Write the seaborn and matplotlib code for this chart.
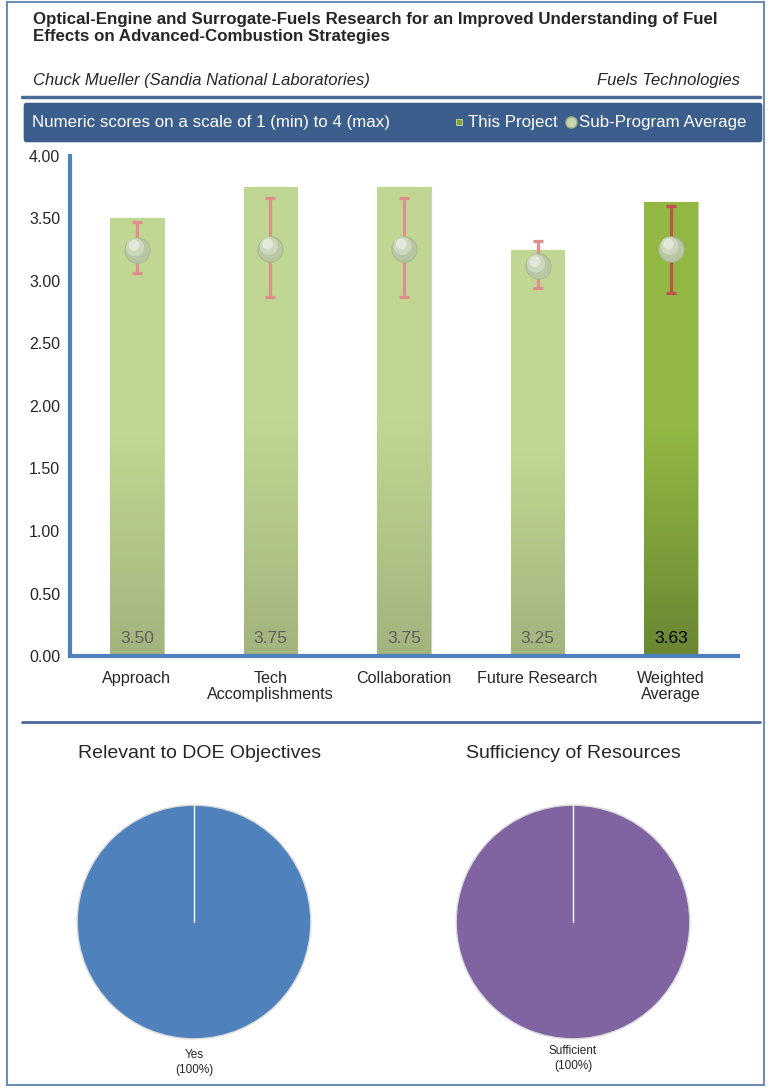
import numpy as np
import pandas as pd
import matplotlib.pyplot as plt
import seaborn as sns
from matplotlib.patches import FancyBboxPatch, Rectangle
from matplotlib.lines import Line2D

categories = ['Approach', 'Tech\nAccomplishments', 'Collaboration', 'Future Research', 'Weighted\nAverage']
scores = [3.50, 3.75, 3.75, 3.25, 3.63]
score_labels = ['3.50', '3.75', '3.75', '3.25', '3.63']
sub_avg = [3.25, 3.26, 3.26, 3.12, 3.26]
err_low = [3.06, 2.87, 2.87, 2.94, 2.90]
err_high = [3.47, 3.66, 3.66, 3.32, 3.60]
y_ticks = [0.0, 0.5, 1.0, 1.5, 2.0, 2.5, 3.0, 3.5, 4.0]

relevant_labels = ['Yes\n(100%)']
relevant_values = [100]
resources_labels = ['Sufficient\n(100%)']
resources_values = [100]

sns.set_theme(style="white")
plt.rcParams['font.family'] = ['Liberation Sans', 'DejaVu Sans']

W, H = 772, 1088
fig = plt.figure(figsize=(W / 100, H / 100), dpi=100)


def fx(px):
    return px / W


def fy(py):
    return 1 - py / H


# outer frame and header
fig.patches.append(Rectangle((fx(7), fy(1085)), fx(757), 1083 / H, transform=fig.transFigure,
                             fill=False, edgecolor='#6F8CB5', linewidth=1.5))
fig.text(fx(33), fy(28), 'Optical-Engine and Surrogate-Fuels Research for an Improved Understanding of Fuel\n'
         'Effects on Advanced-Combustion Strategies', fontsize=12.2, fontweight='bold',
         va='center', ha='left', linespacing=1.2)
fig.text(fx(33), fy(80), 'Chuck Mueller (Sandia National Laboratories)', fontsize=12,
         style='italic', va='center')
fig.text(fx(740), fy(80), 'Fuels Technologies', fontsize=12, style='italic', va='center', ha='right')
fig.lines.append(Line2D([fx(22), fx(760)], [fy(97), fy(97)], transform=fig.transFigure,
                        color='#4A6A9A', linewidth=2.5))

# banner with legend
fig.patches.append(FancyBboxPatch((fx(26), fy(139)), fx(734), 33 / H, transform=fig.transFigure,
                                  boxstyle='round,pad=0.003', facecolor='#3B5E8C', edgecolor='none'))
fig.text(fx(32), fy(122), 'Numeric scores on a scale of 1 (min) to 4 (max)', color='white',
         fontsize=12.2, va='center')
fig.patches.append(Rectangle((fx(456), fy(125)), fx(6), 6 / H, transform=fig.transFigure,
                             facecolor='#7FA33A', edgecolor='#C9DB9A', linewidth=0.6))
fig.text(fx(468), fy(122), 'This Project', color='white', fontsize=12.2, va='center')
fig.lines.append(Line2D([fx(571)], [fy(122)], transform=fig.transFigure, marker='o',
                        markersize=8, markerfacecolor='#C9D6B4', markeredgecolor='#9FAF88'))
fig.text(fx(579), fy(122), 'Sub-Program Average', color='white', fontsize=12.2, va='center')

# bar chart
ax = fig.add_axes([fx(70), fy(656), fx(668), 500 / H])
df = pd.DataFrame({'category': categories, 'score': scores})
palette = ['#B8D08A'] * 4 + ['#86AA3C']
sns.barplot(data=df, x='category', y='score', hue='category', palette=palette,
            width=0.4, legend=False, ax=ax, saturation=1)

grads = [('#BFD792', '#A3B47E')] * 4 + [('#92B843', '#6A8733')]
for patch, (c_top, c_bot) in zip(ax.patches, grads):
    x0, y0 = patch.get_x(), patch.get_y()
    w, h = patch.get_width(), patch.get_height()
    cmap = sns.blend_palette([c_bot, c_top, c_top], as_cmap=True)
    grad = np.linspace(0, 1, 100).reshape(-1, 1)
    im = ax.imshow(grad, cmap=cmap, origin='lower', aspect='auto',
                   extent=[x0, x0 + w, y0, y0 + h], zorder=patch.get_zorder() + 0.1)
    im.set_clip_path(patch)
    patch.set_edgecolor('#C8D3B4')
    patch.set_linewidth(0.8)

xs = np.arange(len(categories))
avg = np.array(sub_avg)
yerr = [avg - np.array(err_low), np.array(err_high) - avg]
for i in xs:
    col = '#C0504D' if i == 4 else '#E28E8C'
    ax.errorbar(xs[i], avg[i], yerr=[[yerr[0][i]], [yerr[1][i]]], fmt='none', ecolor=col,
                elinewidth=2.3, capsize=3.5, capthick=2.3, zorder=5)
ax.scatter(xs, avg, s=330, color='#B9C6A3', edgecolor='#A9B992', linewidth=0.8, zorder=6)
ax.scatter(xs - 0.012, avg + 0.02, s=170, color='#D0DAC2', edgecolor='none', zorder=7, alpha=0.9)
ax.scatter(xs - 0.02, avg + 0.035, s=60, color='#E6ECDD', edgecolor='none', zorder=8, alpha=0.9)

for i, lab in enumerate(score_labels):
    ax.text(xs[i], 0.14, lab, ha='center', va='center', fontsize=12.5,
            color='black' if i == 4 else '#5E5E5E', zorder=8)

ax.set_xlim(-0.5, 4.5)
ax.set_ylim(0, 4)
ax.set_yticks(y_ticks)
ax.set_yticklabels([f'{v:.2f}' for v in y_ticks], fontsize=11.5)
ax.set_xticks(xs)
ax.set_xticklabels(categories, fontsize=11.6, linespacing=1.05)
ax.set_xticks(np.arange(-0.5, 5, 1), minor=True)
ax.tick_params(axis='x', which='major', length=0, pad=11)
ax.tick_params(axis='x', which='minor', length=5, width=2, color='#4F81BD', direction='out')
ax.tick_params(axis='y', length=4, width=2, color='#4F81BD', direction='out', pad=3)
ax.set_xlabel('')
ax.set_ylabel('')
for side in ['top', 'right']:
    ax.spines[side].set_visible(False)
for side in ['left', 'bottom']:
    ax.spines[side].set_color('#4F81BD')
    ax.spines[side].set_linewidth(3)
ax.grid(False)

fig.lines.append(Line2D([fx(22), fx(760)], [fy(722), fy(722)], transform=fig.transFigure,
                        color='#4A6A9A', linewidth=2))

# pies
fig.text(fx(200), fy(754), 'Relevant to DOE Objectives', fontsize=14, ha='center', va='center')
fig.text(fx(573), fy(754), 'Sufficiency of Resources', fontsize=14, ha='center', va='center')

pie_specs = [(76, relevant_values, relevant_labels, '#4F81BD', 1.2),
             (455, resources_values, resources_labels, '#8064A2', 1.17)]
for left, vals, labs, col, dist in pie_specs:
    pax = fig.add_axes([fx(left), fy(1040), fx(236), 236 / H])
    wedges, _ = pax.pie(vals, labels=labs, colors=[col], startangle=90, labeldistance=dist,
                        wedgeprops=dict(edgecolor='#D9D9D9', linewidth=1),
                        textprops=dict(fontsize=8.5, ha='center', va='center', linespacing=1.35))
    # slice boundary from the centre to the start angle
    th = np.deg2rad(wedges[0].theta1)
    pax.plot([0, np.cos(th)], [0, np.sin(th)], color='white', linewidth=1, zorder=3)
    pax.set_xlim(-1.01, 1.01)
    pax.set_ylim(-1.01, 1.01)
    pax.set_aspect('equal')

plt.savefig('out.png', dpi=100)
